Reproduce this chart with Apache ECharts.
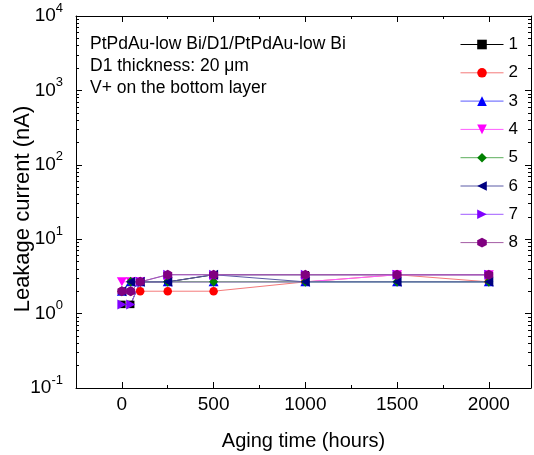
<!DOCTYPE html>
<html>
<head>
<meta charset="utf-8">
<script src="https://cdn.jsdelivr.net/npm/echarts@6/dist/echarts.min.js"></script>
<style>
  html, body { margin: 0; padding: 0; background: #fff; }
  #chart { width: 534px; height: 455px; }
</style>
</head>
<body>
<div id="chart"></div>
<script>
// Aging time (hours) at each measurement
const hours = [0, 48, 100, 250, 500, 1000, 1500, 2000];

// Leakage current (nA) per sample
const sample1 = [1.33, 1.33, 2.67, 2.67, 3.33, 3.33, 3.33, 3.33];
const sample2 = [2.0, 2.0, 2.0, 2.0, 2.0, 2.67, 3.33, 2.67];
const sample3 = [2.0, 2.67, 2.67, 2.67, 2.67, 2.67, 2.67, 2.67];
const sample4 = [2.67, 2.67, 2.67, 2.67, 2.67, 2.67, 3.33, 3.33];
const sample5 = [2.0, 2.67, 2.67, 2.67, 2.67, 2.67, 2.67, 2.67];
const sample6 = [2.0, 2.67, 2.67, 2.67, 3.33, 2.67, 2.67, 2.67];
const sample7 = [1.33, 1.33, 2.67, 3.33, 3.33, 3.33, 3.33, 3.33];
const sample8 = [2.0, 2.0, 2.67, 3.33, 3.33, 3.33, 3.33, 3.33];

const sampleNames = ['1', '2', '3', '4', '5', '6', '7', '8'];
const sampleValues = [sample1, sample2, sample3, sample4, sample5, sample6, sample7, sample8];

// Tick positions
const xMajorTicks = [0, 500, 1000, 1500, 2000];
const xMinorTicks = [250, 750, 1250, 1750];
const yMajorTicks = [0.1, 1, 10, 100, 1000, 10000];
const yMinorTicks = [];
for (let d = -1; d < 4; d++) {
  for (let m = 2; m <= 9; m++) yMinorTicks.push(+(m * Math.pow(10, d)).toPrecision(3));
}

const notes = [
  'PtPdAu-low Bi/D1/PtPdAu-low Bi',
  'D1 thickness: 20 \u03bcm',
  'V+ on the bottom layer'
];

const FONT = 'Liberation Sans, Arial, sans-serif';

const markerColors = ['#000000', '#ff0000', '#0000ff', '#ff00ff', '#008000', '#000080', '#8000ff', '#800080'];
const lineColors   = ['#000000', '#f47a7a', '#5a5aff', '#ff5cff', '#5cae5c', '#5a5aa6', '#a05cff', '#a45ca4'];
const symbols = [
  'rect',
  'circle',
  'triangle',
  'path://M0,0 L10,0 L5,9 Z',
  'diamond',
  'path://M10,0 L10,10 L1,5 Z',
  'path://M0,0 L0,10 L9,5 Z',
  'path://M5,0 L9.33,2.5 L9.33,7.5 L5,10 L0.67,7.5 L0.67,2.5 Z'
];
const symbolSizes = [7.5, 8.5, [10, 9], [10, 9], [9, 10], [9, 10], [9, 10], [9, 10]];

const series = sampleValues.map((vals, i) => ({
  name: sampleNames[i],
  type: 'line',
  xAxisIndex: 0,
  yAxisIndex: 0,
  data: hours.map((h, j) => [h, vals[j]]),
  symbol: symbols[i],
  symbolSize: symbolSizes[i],
  showAllSymbol: true,
  animation: false,
  itemStyle: { color: markerColors[i], borderWidth: 0 },
  lineStyle: { color: lineColors[i], width: 1 },
  emphasis: { disabled: true }
}));

const tickStyle = { color: '#000', width: 1 };

function xAxisDef(position, ticks, len, showLine, showLabel) {
  return {
    type: 'value', position: position, min: -250, max: 2230,
    axisLine: { show: showLine, onZero: false, lineStyle: { color: '#000', width: 1 } },
    axisTick: { show: true, inside: true, length: len, customValues: ticks, lineStyle: tickStyle },
    axisLabel: showLabel ? {
      show: true, customValues: ticks, margin: 7, color: '#000', fontSize: 19, fontFamily: FONT,
      formatter: v => String(v)
    } : { show: false },
    splitLine: { show: false }
  };
}

function yAxisDef(position, ticks, len, showLine, showLabel) {
  return {
    type: 'log', logBase: 10, position: position, min: 0.1, max: 10000,
    axisLine: { show: showLine, onZero: false, lineStyle: { color: '#000', width: 1 } },
    axisTick: { show: true, inside: true, length: len, customValues: ticks, lineStyle: tickStyle },
    axisLabel: showLabel ? {
      show: true, customValues: ticks, margin: 13, color: '#000', fontFamily: FONT,
      formatter: v => '{b|10}{s|' + Math.round(Math.log10(v)) + '}',
      rich: {
        b: { fontSize: 19, fontFamily: FONT, color: '#000' },
        s: { fontSize: 13, fontFamily: FONT, color: '#000', padding: [0, 0, 16, 0] }
      }
    } : { show: false },
    splitLine: { show: false },
    minorTick: { show: false }
  };
}

const chart = echarts.init(document.getElementById('chart'), null, { renderer: 'canvas' });

const xAxes = [
  xAxisDef('bottom', xMajorTicks, 6, true, true),
  xAxisDef('bottom', xMinorTicks, 3, false, false),
  xAxisDef('top', xMajorTicks, 6, true, false),
  xAxisDef('top', xMinorTicks, 3, false, false)
];
xAxes[0].name = 'Aging time (hours)';
xAxes[0].nameLocation = 'middle';
xAxes[0].nameGap = 43;
xAxes[0].nameMoveOverlap = false;
xAxes[0].nameTextStyle = { fontSize: 20, fontFamily: FONT, color: '#000' };

const yAxes = [
  yAxisDef('left', yMajorTicks, 6, true, true),
  yAxisDef('left', yMinorTicks, 3, false, false),
  yAxisDef('right', yMajorTicks, 6, true, false),
  yAxisDef('right', yMinorTicks, 3, false, false)
];
yAxes[0].name = 'Leakage current (nA)';
yAxes[0].nameLocation = 'middle';
yAxes[0].nameGap = 42;
yAxes[0].nameMoveOverlap = false;
yAxes[0].nameTextStyle = { fontSize: 22, fontFamily: FONT, color: '#000', padding: [0, 14, 0, 0] };

chart.setOption({
  animation: false,
  backgroundColor: '#fff',
  grid: { left: 76, right: 3, top: 16, bottom: 67, containLabel: false, outerBoundsMode: 'none' },
  xAxis: xAxes,
  yAxis: yAxes,
  legend: {
    orient: 'vertical',
    left: 460,
    top: 36,
    itemWidth: 43,
    itemHeight: 12,
    itemGap: 11.3,
    padding: 0,
    lineStyle: { width: 1 },
    textStyle: { fontSize: 17, fontFamily: FONT, color: '#000', padding: [0, 0, 0, 0] },
    selectedMode: false,
    data: sampleNames
  },
  graphic: notes.map((t, i) => ({
    type: 'text',
    x: 90,
    y: 44 + i * 22,
    silent: true,
    style: { text: t, fontSize: 17.5, fontFamily: FONT, fill: '#000', verticalAlign: 'middle' }
  })),
  series: series
});
</script>
</body>
</html>
